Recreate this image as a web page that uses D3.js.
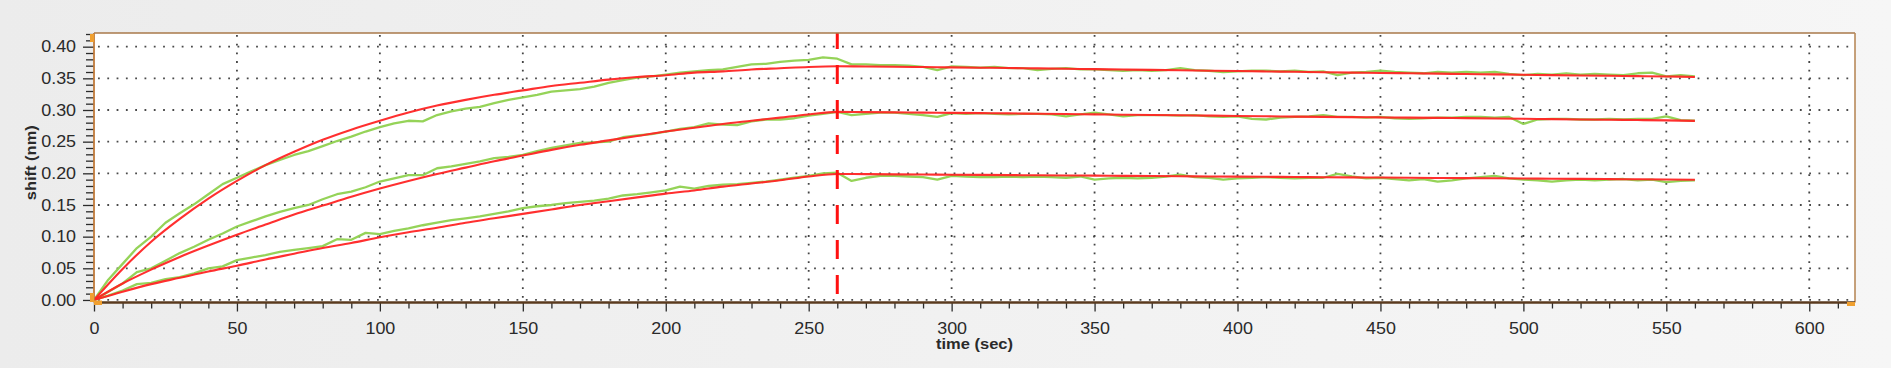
<!DOCTYPE html>
<html>
<head>
<meta charset="utf-8">
<script src="https://cdn.jsdelivr.net/npm/d3@7"></script>
<style>
body { margin: 0; background: #efefef; }
svg { display: block; font-family: "Liberation Sans", Arial, sans-serif; }
</style>
</head>
<body>
<svg id="chart"></svg>
<script>
//data//
var fitTime = [0, 10, 20, 30, 40, 50, 60, 70, 80, 90,
               100, 110, 120, 130, 140, 150, 160, 170, 180, 190,
               200, 210, 220, 230, 240, 250, 260, 270, 280, 290,
               300, 310, 320, 330, 340, 350, 360, 370, 380, 390,
               400, 410, 420, 430, 440, 450, 460, 470, 480, 490,
               500, 510, 520, 530, 540, 550, 560];

var fitA = [0, 0.049, 0.092, 0.128, 0.160, 0.188, 0.213, 0.234, 0.253, 0.269,
            0.283, 0.296, 0.307, 0.316, 0.324, 0.331, 0.338, 0.343, 0.348, 0.352,
            0.355, 0.359, 0.361, 0.364, 0.366, 0.368, 0.369, 0.3687, 0.3683, 0.3678,
            0.3673, 0.3668, 0.3663, 0.3657, 0.3651, 0.3645, 0.3639, 0.3633, 0.3627, 0.3621,
            0.3615, 0.3609, 0.3603, 0.3597, 0.3591, 0.3585, 0.358, 0.3574, 0.3568, 0.3562,
            0.3556, 0.355, 0.3545, 0.354, 0.3535, 0.353, 0.3522];

var fitB = [0, 0.026, 0.048, 0.068, 0.086, 0.103, 0.119, 0.135, 0.149, 0.163,
            0.176, 0.188, 0.199, 0.209, 0.219, 0.228, 0.237, 0.245, 0.252, 0.259,
            0.266, 0.272, 0.278, 0.283, 0.288, 0.293, 0.297, 0.2966, 0.2962, 0.2958,
            0.2954, 0.295, 0.2946, 0.2941, 0.2936, 0.2931, 0.2926, 0.2921, 0.2916, 0.2911,
            0.2906, 0.2901, 0.2896, 0.2891, 0.2887, 0.2883, 0.2879, 0.2875, 0.2871, 0.2866,
            0.2861, 0.2856, 0.2851, 0.2846, 0.2841, 0.2836, 0.2829];

var fitC = [0, 0.013, 0.025, 0.035, 0.045, 0.054, 0.064, 0.073, 0.082, 0.090,
            0.099, 0.107, 0.114, 0.122, 0.129, 0.136, 0.143, 0.150, 0.156, 0.162,
            0.168, 0.173, 0.179, 0.184, 0.189, 0.195, 0.199, 0.1987, 0.1984, 0.1981,
            0.1978, 0.1975, 0.1972, 0.1969, 0.1966, 0.1963, 0.196, 0.1957, 0.1954, 0.1951,
            0.1948, 0.1945, 0.1942, 0.1939, 0.1936, 0.1933, 0.193, 0.1927, 0.1924, 0.1921,
            0.1918, 0.1915, 0.1912, 0.1909, 0.1906, 0.1903, 0.1898];

var rawTime = [0, 5, 10, 15, 20, 25, 30, 35, 40, 45,
               50, 55, 60, 65, 70, 75, 80, 85, 90, 95,
               100, 105, 110, 115, 120, 125, 130, 135, 140, 145,
               150, 155, 160, 165, 170, 175, 180, 185, 190, 195,
               200, 205, 210, 215, 220, 225, 230, 235, 240, 245,
               250, 255, 260, 265, 270, 275, 280, 285, 290, 295,
               300, 305, 310, 315, 320, 325, 330, 335, 340, 345,
               350, 355, 360, 365, 370, 375, 380, 385, 390, 395,
               400, 405, 410, 415, 420, 425, 430, 435, 440, 445,
               450, 455, 460, 465, 470, 475, 480, 485, 490, 495,
               500, 505, 510, 515, 520, 525, 530, 535, 540, 545,
               550, 555, 560];

var rawA = [0.000, 0.032, 0.057, 0.082, 0.100, 0.122, 0.137, 0.151, 0.167, 0.183,
            0.193, 0.203, 0.213, 0.221, 0.229, 0.235, 0.243, 0.251, 0.258, 0.266,
            0.273, 0.279, 0.283, 0.282, 0.292, 0.298, 0.302, 0.305, 0.311, 0.316,
            0.320, 0.324, 0.329, 0.331, 0.333, 0.337, 0.343, 0.347, 0.351, 0.353,
            0.356, 0.359, 0.361, 0.363, 0.364, 0.368, 0.372, 0.373, 0.376, 0.378,
            0.379, 0.383, 0.381, 0.372, 0.372, 0.371, 0.371, 0.370, 0.368, 0.363,
            0.369, 0.368, 0.367, 0.368, 0.366, 0.366, 0.363, 0.365, 0.366, 0.364,
            0.364, 0.363, 0.362, 0.363, 0.362, 0.363, 0.366, 0.363, 0.362, 0.360,
            0.361, 0.362, 0.362, 0.361, 0.362, 0.360, 0.361, 0.355, 0.359, 0.360,
            0.362, 0.360, 0.359, 0.358, 0.360, 0.359, 0.360, 0.359, 0.360, 0.357,
            0.355, 0.357, 0.356, 0.358, 0.356, 0.357, 0.356, 0.355, 0.358, 0.359,
            0.353, 0.355, 0.353];

var rawB = [0.000, 0.013, 0.026, 0.044, 0.050, 0.062, 0.074, 0.084, 0.095, 0.105,
            0.116, 0.124, 0.132, 0.139, 0.145, 0.150, 0.159, 0.167, 0.171, 0.178,
            0.187, 0.192, 0.197, 0.197, 0.208, 0.211, 0.215, 0.219, 0.224, 0.226,
            0.229, 0.235, 0.240, 0.244, 0.248, 0.249, 0.250, 0.257, 0.260, 0.262,
            0.266, 0.270, 0.273, 0.279, 0.277, 0.276, 0.282, 0.285, 0.285, 0.287,
            0.291, 0.294, 0.297, 0.292, 0.294, 0.296, 0.296, 0.294, 0.292, 0.289,
            0.295, 0.294, 0.295, 0.294, 0.293, 0.294, 0.294, 0.293, 0.290, 0.293,
            0.296, 0.293, 0.290, 0.292, 0.292, 0.292, 0.291, 0.292, 0.290, 0.289,
            0.290, 0.286, 0.285, 0.288, 0.289, 0.290, 0.292, 0.289, 0.289, 0.288,
            0.289, 0.287, 0.286, 0.287, 0.288, 0.288, 0.289, 0.289, 0.288, 0.289,
            0.278, 0.285, 0.286, 0.286, 0.285, 0.285, 0.286, 0.285, 0.286, 0.286,
            0.290, 0.284, 0.283];

var rawC = [0.000, 0.007, 0.015, 0.025, 0.027, 0.033, 0.036, 0.042, 0.050, 0.053,
            0.063, 0.067, 0.071, 0.076, 0.079, 0.082, 0.085, 0.096, 0.095, 0.106,
            0.104, 0.109, 0.113, 0.118, 0.122, 0.126, 0.129, 0.132, 0.136, 0.140,
            0.145, 0.148, 0.150, 0.153, 0.155, 0.157, 0.160, 0.165, 0.167, 0.170,
            0.173, 0.179, 0.176, 0.180, 0.182, 0.183, 0.185, 0.187, 0.190, 0.193,
            0.196, 0.200, 0.201, 0.188, 0.193, 0.196, 0.196, 0.195, 0.194, 0.190,
            0.196, 0.195, 0.194, 0.194, 0.195, 0.194, 0.195, 0.194, 0.193, 0.195,
            0.190, 0.192, 0.193, 0.192, 0.193, 0.195, 0.198, 0.194, 0.193, 0.190,
            0.192, 0.193, 0.194, 0.193, 0.192, 0.193, 0.193, 0.199, 0.195, 0.192,
            0.193, 0.191, 0.189, 0.191, 0.187, 0.189, 0.192, 0.194, 0.196, 0.192,
            0.190, 0.189, 0.187, 0.189, 0.190, 0.189, 0.190, 0.191, 0.189, 0.190,
            0.186, 0.188, 0.189];

var xMajor = [0, 50, 100, 150, 200, 250, 300, 350, 400, 450, 500, 550, 600];
var xMinor = [10, 20, 30, 40, 60, 70, 80, 90, 110, 120, 130, 140, 160, 170, 180, 190,
              210, 220, 230, 240, 260, 270, 280, 290, 310, 320, 330, 340, 360, 370, 380, 390,
              410, 420, 430, 440, 460, 470, 480, 490, 510, 520, 530, 540, 560, 570, 580, 590, 610];
var yMajor = [0, 0.05, 0.10, 0.15, 0.20, 0.25, 0.30, 0.35, 0.40];
var yMinor = [0.01, 0.02, 0.03, 0.04, 0.06, 0.07, 0.08, 0.09, 0.11, 0.12, 0.13, 0.14,
              0.16, 0.17, 0.18, 0.19, 0.21, 0.22, 0.23, 0.24, 0.26, 0.27, 0.28, 0.29,
              0.31, 0.32, 0.33, 0.34, 0.36, 0.37, 0.38, 0.39, 0.41, 0.42];
var stepTime = 260; //where the dissociation starts//

//variables//
var screen = {width: 1891, height: 368}
var plot = {left: 94, right: 1855, top: 33, bottom: 302.5}

var xScale = d3.scaleLinear()
               .domain([0, 616])
               .range([plot.left, plot.right]);

var yScale = d3.scaleLinear()
               .domain([-0.004, 0.4216])
               .range([plot.bottom, plot.top]);

var svg = d3.select("#chart")
            .attr("width", screen.width)
            .attr("height", screen.height);

//background, soft grey like the screenshot//
var defs = svg.append("defs");
var grad = defs.append("linearGradient")
               .attr("id", "bg")
               .attr("x1", 0).attr("y1", 0)
               .attr("x2", 1).attr("y2", 0);
grad.append("stop").attr("offset", "0%").attr("stop-color", "#ececec");
grad.append("stop").attr("offset", "50%").attr("stop-color", "#f1f1f1");
grad.append("stop").attr("offset", "100%").attr("stop-color", "#f6f6f6");

svg.append("rect")
   .attr("width", screen.width)
   .attr("height", screen.height)
   .style("fill", "url(#bg)");

svg.append("rect")
   .attr("x", plot.left)
   .attr("y", plot.top)
   .attr("width", plot.right - plot.left)
   .attr("height", plot.bottom - plot.top)
   .style("fill", "#ffffff");

//dotted grid//
var grid = svg.append("g").attr("id", "grid");

grid.selectAll(".hgrid")
    .data(yMajor)
    .enter()
    .append("line")
    .attr("class", "hgrid")
    .attr("x1", plot.left + 4)
    .attr("x2", plot.right)
    .attr("y1", function(d) { return yScale(d); })
    .attr("y2", function(d) { return yScale(d); })
    .style("stroke", "#4a4a4a")
    .style("stroke-width", 1.8)
    .style("stroke-dasharray", "1.8,7.5");

grid.selectAll(".vgrid")
    .data(xMajor.slice(1))
    .enter()
    .append("line")
    .attr("class", "vgrid")
    .attr("x1", function(d) { return xScale(d); })
    .attr("x2", function(d) { return xScale(d); })
    .attr("y1", plot.top + 2)
    .attr("y2", plot.bottom)
    .style("stroke", "#444")
    .style("stroke-width", 1.8)
    .style("stroke-dasharray", "1.8,6.9");

//axes//
var xAxisMajor = d3.axisBottom(xScale)
                   .tickValues(xMajor)
                   .tickSize(9)
                   .tickPadding(11)
                   .tickFormat(d3.format("d"));

var xAxisMinor = d3.axisBottom(xScale)
                   .tickValues(xMinor)
                   .tickSize(6)
                   .tickFormat("");

var yAxisMajor = d3.axisLeft(yScale)
                   .tickValues(yMajor)
                   .tickSize(11)
                   .tickPadding(5)
                   .tickFormat(d3.format(".2f"));

var yAxisMinor = d3.axisLeft(yScale)
                   .tickValues(yMinor)
                   .tickSize(8)
                   .tickFormat("");

var styleAxis = function(g)
                {
                    g.select(".domain").remove();
                    g.selectAll("line")
                     .style("stroke", "#2b2b2b")
                     .style("stroke-width", 1.3);
                    g.selectAll("text")
                     .style("font-size", "16px")
                     .style("fill", "#2a2a2a")
                     .attr("transform", "scale(1.12,1)");
                }

svg.append("g")
   .attr("transform", "translate(0," + plot.bottom + ")")
   .call(xAxisMinor)
   .call(styleAxis);

svg.append("g")
   .attr("transform", "translate(0," + plot.bottom + ")")
   .call(xAxisMajor)
   .call(styleAxis);

svg.append("g")
   .attr("transform", "translate(" + plot.left + ",0)")
   .call(yAxisMinor)
   .call(styleAxis);

svg.append("g")
   .attr("transform", "translate(" + plot.left + ",0)")
   .call(yAxisMajor)
   .call(styleAxis);

//curves: measured (green) below, fit (red) on top//
var rawLine = function(values)
              {
                  return d3.line()
                           .x(function(d, i) { return xScale(rawTime[i]); })
                           .y(function(d) { return yScale(d); })(values);
              }

var fitLine = function(values)
              {
                  return d3.line()
                           .curve(d3.curveMonotoneX)
                           .x(function(d, i) { return xScale(fitTime[i]); })
                           .y(function(d) { return yScale(d); })(values);
              }

var curves = svg.append("g").attr("id", "curves");

curves.selectAll(".raw")
      .data([rawA, rawB, rawC])
      .enter()
      .append("path")
      .attr("class", "raw")
      .attr("d", rawLine)
      .style("fill", "none")
      .style("stroke", "#8fd14f")
      .style("stroke-width", 2.3)
      .style("stroke-linejoin", "round")
      .style("opacity", 0.95);

curves.selectAll(".fit")
      .data([fitA, fitB, fitC])
      .enter()
      .append("path")
      .attr("class", "fit")
      .attr("d", fitLine)
      .style("fill", "none")
      .style("stroke", "#ff2424")
      .style("stroke-width", 2.1)
      .style("opacity", 0.95);

//red dashed marker at the end of association//
svg.append("line")
   .attr("x1", xScale(stepTime))
   .attr("x2", xScale(stepTime))
   .attr("y1", plot.top)
   .attr("y2", plot.bottom)
   .style("stroke", "#ff1010")
   .style("stroke-width", 3)
   .style("stroke-dasharray", "19,16")
   .style("stroke-dashoffset", 3);

//frame//
svg.append("line")
   .attr("x1", plot.left).attr("x2", plot.right)
   .attr("y1", plot.top).attr("y2", plot.top)
   .style("stroke", "#a8784a").style("stroke-width", 1.6);
svg.append("line")
   .attr("x1", plot.right).attr("x2", plot.right)
   .attr("y1", plot.top).attr("y2", plot.bottom)
   .style("stroke", "#b88a5a").style("stroke-width", 1.6);
svg.append("line")
   .attr("x1", plot.left).attr("x2", plot.left)
   .attr("y1", plot.top).attr("y2", plot.bottom)
   .style("stroke", "#c07a3a").style("stroke-width", 1.8);
svg.append("line")
   .attr("x1", plot.left).attr("x2", plot.right)
   .attr("y1", plot.bottom).attr("y2", plot.bottom)
   .style("stroke", "#5a3a1e").style("stroke-width", 2.4);

//little orange handles on the corners//
var handles = [[90, 34, 4, 8], [90, 293, 4, 9], [94, 300.5, 8, 4.5], [1847, 302, 8, 4]];
svg.selectAll(".handle")
   .data(handles)
   .enter()
   .append("rect")
   .attr("class", "handle")
   .attr("x", function(d) { return d[0]; })
   .attr("y", function(d) { return d[1]; })
   .attr("width", function(d) { return d[2]; })
   .attr("height", function(d) { return d[3]; })
   .style("fill", "#f0a030");

//titles//
svg.append("text")
   .attr("x", (plot.left + plot.right) / 2)
   .attr("y", 349)
   .attr("text-anchor", "middle")
   .attr("textLength", 77)
   .attr("lengthAdjust", "spacingAndGlyphs")
   .style("font-size", "15px")
   .style("font-weight", "bold")
   .style("fill", "#2a2a2a")
   .text("time (sec)");

svg.append("text")
   .attr("transform", "translate(36," + ((plot.top + plot.bottom) / 2 - 5) + ") rotate(-90)")
   .attr("text-anchor", "middle")
   .attr("textLength", 75)
   .attr("lengthAdjust", "spacingAndGlyphs")
   .style("font-size", "14px")
   .style("font-weight", "bold")
   .style("fill", "#2a2a2a")
   .text("shift (nm)");
</script>
</body>
</html>
